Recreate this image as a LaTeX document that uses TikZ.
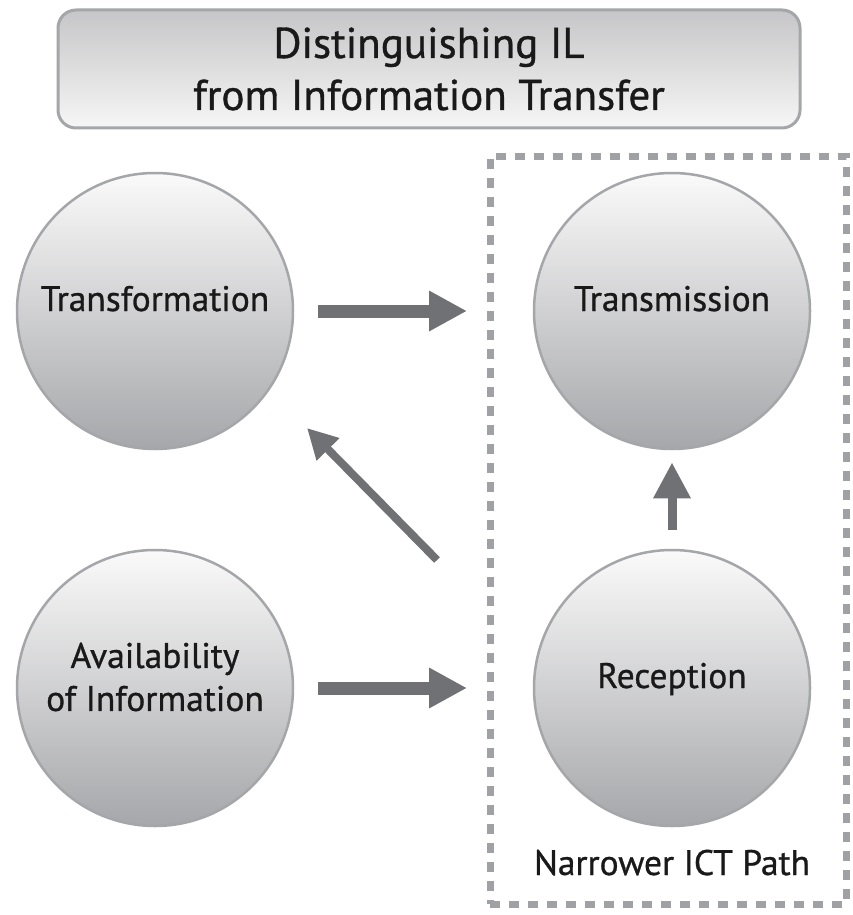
\documentclass[tikz,border=0pt]{standalone}
\usepackage{fontspec}
\setmainfont{PT Sans}
\newfontfamily\medfont{PT Sans}[BoldFont=PT Sans, BoldFeatures={FakeBold=0.8}]
\usetikzlibrary{arrows.meta}
\definecolor{arrowgray}{RGB}{112,113,117}
\definecolor{rimgray}{RGB}{165,166,169}
\definecolor{dashgray}{RGB}{160,161,165}
\definecolor{circtop}{RGB}{250,250,250}
\definecolor{circbot}{RGB}{166,167,170}
\definecolor{titletop}{RGB}{198,198,200}
\definecolor{titlebot}{RGB}{246,246,246}
\definecolor{textcol}{RGB}{25,25,25}
\tikzset{
  circ/.style={circle, draw=rimgray, line width=2.5pt, top color=circtop, bottom color=circbot,
    minimum size=276pt, inner sep=0pt, text=textcol, font=\medfont\bfseries\fontsize{35.5}{43}\selectfont, align=center},
  onel/.style={text height=0pt, text depth=0pt},
  titlebox/.style={rectangle, rounded corners=18pt, draw=rimgray, line width=3pt,
    top color=titletop, bottom color=titlebot, minimum width=742pt, minimum height=118pt,
    inner sep=0pt, align=center, text=textcol, font=\medfont\bfseries\fontsize{43}{52}\selectfont},
  ictframe/.style={rectangle, draw=dashgray, line width=7pt, dash pattern=on 10pt off 9pt,
    minimum width=356pt, minimum height=748pt, inner sep=0pt},
  lbl/.style={font=\medfont\bfseries\fontsize{35.5}{43}\selectfont, text=textcol, inner sep=0pt},
  bigarrow/.style={draw=arrowgray, line width=13pt, -{Triangle[length=38pt, width=38pt]}},
  thinarrow/.style={draw=arrowgray, line width=8pt, -{Triangle[length=30pt, width=30pt]}},
  uparrow/.style={draw=arrowgray, line width=9pt, -{Triangle[length=36pt, width=35pt]}}
}
\begin{document}
\begin{tikzpicture}[x=1pt,y=-1pt]
\fill[white] (0,0) rectangle (852,915);
\useasboundingbox (0,0) rectangle (852,915);
\node[titlebox] (title) at (429,69) {Distinguishing IL\\from Information Transfer};
\node[ictframe] (ictbox) at (668,530) {};
\node[circ, onel] (trf) at (155,311) {Transformation};
\node[circ, onel] (trn) at (672,311) {Transmission};
\node[circ, onel] (rec) at (672,688) {Reception};
\node[circ] (avl) at (155,688) {};
\node[lbl, align=center, yshift=11pt] (avltext) at (avl.center) {Availability\\of Information};
\node[lbl, anchor=base] (ictlabel) at (672,875) {Narrower ICT Path};
\coordinate (dstart) at (437,560);
\coordinate (dend) at (307,428);
\draw[bigarrow, shorten <=24pt, shorten >=19.5pt] (trf.east) -- (trf.east -| ictbox.west);
\draw[bigarrow, shorten <=24pt, shorten >=19.5pt] (avl.east) -- (avl.east -| ictbox.west);
\draw[thinarrow] (dstart) -- (dend);
\draw[uparrow, shorten <=19pt, shorten >=12pt] (rec.north) -- (trn.south);
\end{tikzpicture}
\end{document}
